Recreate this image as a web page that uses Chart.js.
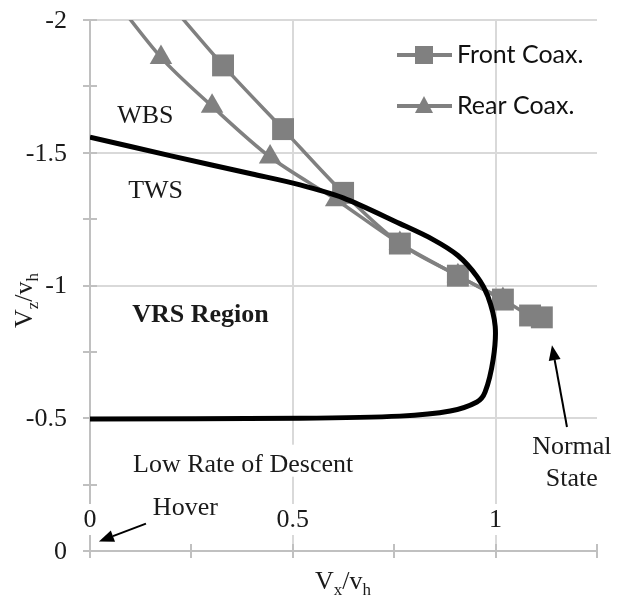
<!DOCTYPE html>
<html>
<head>
<meta charset="utf-8">
<script src="https://cdn.jsdelivr.net/npm/chart.js@4.4.1/dist/chart.umd.min.js"></script>
<style>
  html, body { margin: 0; padding: 0; background: #fff; }
  #wrap { width: 621px; height: 599px; }
</style>
</head>
<body>
<div id="wrap"><canvas id="vrsChart" width="621" height="599"></canvas></div>
<script>
// VRS boundary (black curve)
const vrsX = [0, 0.2, 0.4, 0.518, 0.624, 0.764, 0.846, 0.907, 0.954, 0.981, 0.999, 0.994, 0.974, 0.954, 0.888, 0.764, 0.518, 0];
const vrsY = [-1.559, -1.488, -1.42, -1.379, -1.33, -1.233, -1.173, -1.113, -1.034, -0.959, -0.846, -0.722, -0.598, -0.561, -0.527, -0.508, -0.5, -0.497];

// Front Coax. (first point lies above the plot top)
const frontX = [0.12, 0.328, 0.476, 0.624, 0.764, 0.907, 1.018, 1.085, 1.114];
const frontY = [-2.2, -1.829, -1.589, -1.349, -1.158, -1.037, -0.947, -0.887, -0.88];

// Rear Coax.
const rearX = [0.0, 0.175, 0.301, 0.444, 0.607, 0.764, 0.907, 1.018];
const rearY = [-2.2, -1.859, -1.675, -1.484, -1.323, -1.158, -1.037, -0.947];

// axis ticks / labels
const xLabelValues = [0, 0.5, 1];
const yLabelValues = [-2, -1.5, -1, -0.5, 0];
const xGridValues = [0.5, 1];
const yGridValues = [-2, -1.5, -1, -0.5];
const minorStep = 0.25;

// text notes on the plot (data units)
const notes = [
    { text: 'WBS', x: 0.067, y: -1.638 },
    { text: 'TWS', x: 0.094, y: -1.356 },
    { text: 'VRS Region', x: 0.104, y: -0.886, bold: true },
    { text: 'Low Rate of Descent', x: 0.106, y: -0.325 },
    { text: 'Hover', x: 0.155, y: -0.163 },
    { text: 'Normal', x: 1.188, y: -0.39, center: true },
    { text: 'State', x: 1.188, y: -0.272, center: true }
];
const arrows = [
    { from: [0.138, -0.103], to: [0.022, -0.036] },
    { from: [1.176, -0.467], to: [1.139, -0.775] }
];

const serif = '"Liberation Serif", "Times New Roman", serif';
const gray = '#808080';

function zip(xs, ys) {
    return xs.map((v, i) => ({ x: v, y: ys[i] }));
}

function line(ctx, x1, y1, x2, y2) {
    ctx.beginPath();
    ctx.moveTo(x1, y1);
    ctx.lineTo(x2, y2);
    ctx.stroke();
}

function fmt(v) {
    return String(v);
}

// text with a subscript, e.g. V_x / v_h
function drawSubText(ctx, parts, x, y) {
    let cx = x;
    parts.forEach(([t, sub]) => {
        ctx.font = (sub ? '17px ' : '26px ') + serif;
        ctx.fillText(t, cx, y + (sub ? 6 : 0));
        cx += ctx.measureText(t).width;
    });
}

function drawArrow(ctx, x1, y1, x2, y2) {
    const ang = Math.atan2(y2 - y1, x2 - x1);
    const len = 15, half = 6;
    const bx = x2 - Math.cos(ang) * len, by = y2 - Math.sin(ang) * len;
    ctx.lineWidth = 2;
    line(ctx, x1, y1, bx, by);
    ctx.beginPath();
    ctx.moveTo(x2, y2);
    ctx.lineTo(bx + Math.sin(ang) * half, by - Math.cos(ang) * half);
    ctx.lineTo(bx - Math.sin(ang) * half, by + Math.cos(ang) * half);
    ctx.closePath();
    ctx.fill();
}

const decorPlugin = {
    id: 'decor',
    beforeDatasetsDraw(chart) {
        const { ctx, chartArea: a, scales: { x, y } } = chart;
        ctx.save();

        // grid
        ctx.lineWidth = 2;
        ctx.strokeStyle = '#d9d9d9';
        yGridValues.forEach(v => {
            const py = Math.round(y.getPixelForValue(v));
            line(ctx, a.left - 7, py, a.right, py);
        });
        xGridValues.forEach(v => {
            const px = Math.round(x.getPixelForValue(v));
            line(ctx, px, a.top, px, a.bottom);
        });

        // axes with crossing ticks
        ctx.strokeStyle = '#c0c0c0';
        line(ctx, a.left, a.top, a.left, a.bottom + 7);
        line(ctx, a.left - 7, a.bottom, a.right, a.bottom);
        for (let v = -2; v <= 0.001; v += minorStep) {
            const py = Math.round(y.getPixelForValue(v));
            line(ctx, a.left - 7, py, a.left + 7, py);
        }
        for (let v = 0; v <= 1.251; v += minorStep) {
            const px = Math.round(x.getPixelForValue(v));
            line(ctx, px, a.bottom - 7, px, a.bottom + 7);
        }

        ctx.textBaseline = 'middle';

        // y tick labels
        ctx.fillStyle = '#1a1a1a';
        ctx.font = '26px ' + serif;
        ctx.textAlign = 'right';
        yLabelValues.forEach(v => {
            ctx.fillText(fmt(v), a.left - 23, y.getPixelForValue(v) + 1);
        });

        // x tick labels sit inside the plot, above the axis
        ctx.textAlign = 'center';
        xLabelValues.forEach(v => {
            const px = x.getPixelForValue(v);
            const w = ctx.measureText(fmt(v)).width;
            ctx.fillStyle = '#fff';
            ctx.fillRect(px - w / 2 - 3, a.bottom - 47, w + 6, 31);
            ctx.fillStyle = '#1a1a1a';
            ctx.fillText(fmt(v), px, a.bottom - 31);
        });

        // notes
        notes.forEach(n => {
            ctx.font = (n.bold ? 'bold 26px ' : '26px ') + serif;
            const w = ctx.measureText(n.text).width;
            const px = x.getPixelForValue(n.x), py = y.getPixelForValue(n.y);
            const left = n.center ? px - w / 2 : px;
            ctx.fillStyle = '#fff';
            ctx.fillRect(left - 4, py - 20, w + 8, 32);
            ctx.fillStyle = '#1a1a1a';
            ctx.textAlign = 'left';
            ctx.fillText(n.text, left, py);
        });

        ctx.restore();
    },
    afterDatasetsDraw(chart) {
        const { ctx, chartArea: a, scales: { x, y } } = chart;
        ctx.save();

        // arrows
        ctx.strokeStyle = '#000';
        ctx.fillStyle = '#000';
        arrows.forEach(r => {
            drawArrow(ctx, x.getPixelForValue(r.from[0]), y.getPixelForValue(r.from[1]),
                x.getPixelForValue(r.to[0]), y.getPixelForValue(r.to[1]));
        });

        // axis titles
        ctx.fillStyle = '#1a1a1a';
        ctx.textAlign = 'left';
        ctx.textBaseline = 'alphabetic';
        drawSubText(ctx, [['V', false], ['x', true], ['/v', false], ['h', true]], 315, 589);
        ctx.save();
        ctx.translate(32, 328);
        ctx.rotate(-Math.PI / 2);
        drawSubText(ctx, [['V', false], ['z', true], ['/v', false], ['h', true]], 0, 0);
        ctx.restore();

        // legend
        const items = chart.data.datasets.filter(d => d.pointStyle);
        items.forEach((d, i) => {
            const ly = 55 + i * 51;
            ctx.strokeStyle = d.borderColor;
            ctx.fillStyle = d.pointBackgroundColor;
            ctx.lineWidth = 4;
            line(ctx, 397, ly, 452, ly);
            if (d.pointStyle === 'rect') {
                ctx.fillRect(424 - 9, ly - 9, 18, 18);
            } else {
                ctx.beginPath();
                ctx.moveTo(424, ly - 10);
                ctx.lineTo(433, ly + 7);
                ctx.lineTo(415, ly + 7);
                ctx.closePath();
                ctx.fill();
            }
            ctx.fillStyle = '#111';
            ctx.font = '25px Lato, "Open Sans", sans-serif';
            ctx.textBaseline = 'middle';
            ctx.fillText(d.label, 457, ly);
        });

        ctx.restore();
    }
};

const chart = new Chart(document.getElementById('vrsChart').getContext('2d'), {
    type: 'scatter',
    data: {
        datasets: [
            {
                label: 'VRS boundary',
                data: zip(vrsX, vrsY),
                showLine: true,
                borderColor: '#000',
                borderWidth: 5,
                pointRadius: 0,
                tension: 0.3,
                order: 0
            },
            {
                label: 'Front Coax.',
                data: zip(frontX, frontY),
                showLine: true,
                borderColor: gray,
                borderWidth: 3.5,
                pointStyle: 'rect',
                pointRadius: 15.5,
                pointBackgroundColor: gray,
                pointBorderWidth: 0,
                tension: 0.3,
                order: 1
            },
            {
                label: 'Rear Coax.',
                data: zip(rearX, rearY),
                showLine: true,
                borderColor: gray,
                borderWidth: 3.5,
                pointStyle: 'triangle',
                pointRadius: 13,
                pointBackgroundColor: gray,
                pointBorderWidth: 0,
                tension: 0.3,
                order: 2
            }
        ]
    },
    options: {
        responsive: false,
        animation: false,
        layout: { padding: { left: 90, right: 24, top: 20, bottom: 48 } },
        scales: {
            x: { type: 'linear', min: 0, max: 1.25, display: false },
            y: { type: 'linear', min: -2, max: 0, reverse: true, display: false }
        },
        plugins: {
            legend: { display: false },
            tooltip: { enabled: false }
        }
    },
    plugins: [decorPlugin]
});
</script>
</body>
</html>
